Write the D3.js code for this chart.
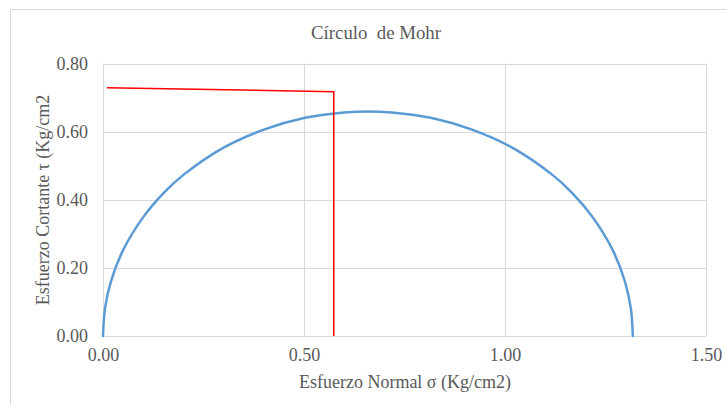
<!DOCTYPE html>
<html><head><meta charset="utf-8">
<script src="https://cdn.jsdelivr.net/npm/d3@7"></script>
<style>body{margin:0;background:#fff}svg{display:block}text{font-family:"Liberation Serif","Times New Roman",serif;fill:#595959}</style>
</head><body>
<script>
const title = "Círculo  de Mohr";
const xLabel = "Esfuerzo Normal σ (Kg/cm2)";
const yLabel = "Esfuerzo Cortante τ (Kg/cm2";
const xTicks = [0, 0.5, 1.0, 1.5];
const yTicks = [0, 0.2, 0.4, 0.6, 0.8];
// Mohr circle points
const circleSigma = [0, 0.005, 0.02, 0.05, 0.1, 0.15, 0.2, 0.3, 0.4, 0.5, 0.6, 0.659, 0.718, 0.818, 0.918, 1.018, 1.118, 1.168, 1.218, 1.268, 1.298, 1.313, 1.318];
const circleTau   = [0, 0.081, 0.161, 0.252, 0.349, 0.419, 0.473, 0.553, 0.606, 0.640, 0.656, 0.659, 0.656, 0.640, 0.606, 0.553, 0.473, 0.419, 0.349, 0.252, 0.161, 0.081, 0];
// Red envelope line
const redSigma = [0.01, 0.574, 0.574];
const redTau   = [0.729, 0.717, 0];

const W = 726, H = 405;
const svg = d3.select("body").append("svg").attr("width", W).attr("height", H);
svg.append("rect").attr("x", 10.5).attr("y", 9.5).attr("width", W + 20).attr("height", H + 20)
  .attr("fill", "#fff").attr("stroke", "#d9d9d9");

const x = d3.scaleLinear().domain([0, 1.5]).range([103, 706]);
const y = d3.scaleLinear().domain([0, 0.8]).range([336, 63.5]);

// gridlines
svg.append("g").selectAll("line").data(yTicks).join("line")
  .attr("x1", x(0)).attr("x2", x(1.5)).attr("y1", d => Math.round(y(d)) + 0.5).attr("y2", d => Math.round(y(d)) + 0.5)
  .attr("stroke", "#d9d9d9").attr("stroke-width", 1);
svg.append("g").selectAll("line").data(xTicks).join("line")
  .attr("y1", y(0)).attr("y2", y(0.8)).attr("x1", d => Math.round(x(d)) + 0.5).attr("x2", d => Math.round(x(d)) + 0.5)
  .attr("stroke", "#d9d9d9").attr("stroke-width", 1);

// axes labels via d3 axes
const fmt = d3.format(".2f");
const xAxis = svg.append("g").attr("transform", `translate(0,${y(0)})`)
  .call(d3.axisBottom(x).tickValues(xTicks).tickFormat(fmt).tickSize(0).tickPadding(12));
const yAxis = svg.append("g").attr("transform", `translate(${x(0)},0)`)
  .call(d3.axisLeft(y).tickValues(yTicks).tickFormat(fmt).tickSize(0).tickPadding(15));
[xAxis, yAxis].forEach(a => {
  a.select(".domain").remove();
  a.selectAll("text").attr("font-size", 18).attr("fill", "#595959")
    .style("font-family", '"Liberation Serif","Times New Roman",serif');
});

// circle
const pts = circleSigma.map((s, i) => [s, circleTau[i]]);
svg.append("path").datum(pts)
  .attr("d", d3.line().x(d => x(d[0])).y(d => y(d[1])).curve(d3.curveCatmullRom.alpha(0.5)))
  .attr("fill", "none").attr("stroke", "#5b9bd5").attr("stroke-width", 2.5).attr("stroke-linecap", "round");

// red line
const rpts = redSigma.map((s, i) => [s, redTau[i]]);
svg.append("path").datum(rpts)
  .attr("d", d3.line().x(d => x(d[0])).y(d => y(d[1])))
  .attr("fill", "none").attr("stroke", "#ff0000").attr("stroke-width", 1.5);

// titles
svg.append("text").attr("x", 376).attr("y", 39).attr("text-anchor", "middle").attr("font-size", 18.8)
  .style("white-space", "pre").attr("xml:space", "preserve").text(title);
svg.append("text").attr("x", 405).attr("y", 388).attr("text-anchor", "middle").attr("font-size", 18).text(xLabel);
svg.append("text").attr("transform", "translate(49,200) rotate(-90)").attr("text-anchor", "middle").attr("font-size", 18).text(yLabel);
</script>
</body></html>
